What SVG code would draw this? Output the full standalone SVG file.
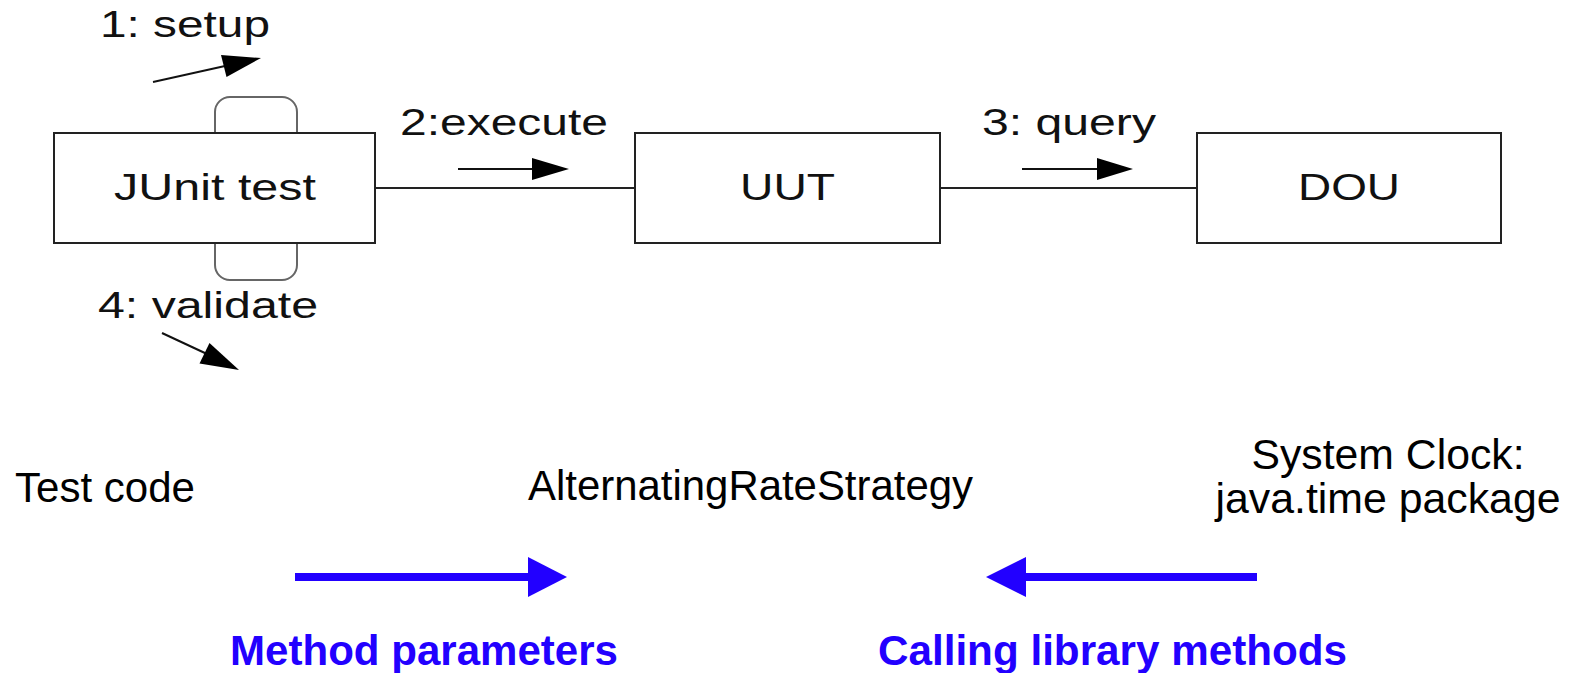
<svg xmlns="http://www.w3.org/2000/svg" width="1572" height="673" viewBox="0 0 1572 673">
<style>
  .box { fill: #fff; stroke: #222; stroke-width: 2; }
  .loop { fill: none; stroke: #666; stroke-width: 2; }
  .conn { stroke: #222; stroke-width: 2; fill: none; }
  .msg { stroke: #111; stroke-width: 2; fill: none; }
  .head { fill: #000; stroke: none; }
  .lbl { font-family: "Liberation Sans", Arial, sans-serif; font-size: 37px; fill: #111; }
  .txt { font-family: "Liberation Sans", Arial, sans-serif; font-size: 42px; fill: #000; }
  .blue { font-family: "Liberation Sans", Arial, sans-serif; font-size: 42px; font-weight: bold; fill: #2200FF; }
  .bline { stroke: #2200FF; stroke-width: 8; fill: none; }
  .bhead { fill: #2200FF; }
</style>
<rect width="1572" height="673" fill="#fff"/>

<g id="connectors">
  <line class="conn" x1="375" y1="188" x2="635" y2="188"/>
  <line class="conn" x1="940" y1="188" x2="1197" y2="188"/>
  <path class="loop" d="M215,133 V112 A15,15 0 0 1 230,97 H282 A15,15 0 0 1 297,112 V133"/>
  <path class="loop" d="M215,243 V265 A15,15 0 0 0 230,280 H282 A15,15 0 0 0 297,265 V243"/>
</g>

<g id="node-junit">
  <rect class="box" x="54" y="133" width="321" height="110"/>
  <text class="lbl" x="215" y="200" text-anchor="middle" textLength="202" lengthAdjust="spacingAndGlyphs">JUnit test</text>
</g>
<g id="node-uut">
  <rect class="box" x="635" y="133" width="305" height="110"/>
  <text class="lbl" x="787.5" y="200" text-anchor="middle" textLength="95" lengthAdjust="spacingAndGlyphs">UUT</text>
</g>
<g id="node-dou">
  <rect class="box" x="1197" y="133" width="304" height="110"/>
  <text class="lbl" x="1349" y="200" text-anchor="middle" textLength="102" lengthAdjust="spacingAndGlyphs">DOU</text>
</g>

<g id="messages">
  <text class="lbl" x="100" y="37" textLength="170" lengthAdjust="spacingAndGlyphs">1: setup</text>
  <line class="msg" x1="153" y1="82" x2="225" y2="66"/>
  <polygon class="head" points="221,55 261,58 226.5,77"/>

  <text class="lbl" x="400" y="135" textLength="208" lengthAdjust="spacingAndGlyphs">2:execute</text>
  <line class="msg" x1="458" y1="169" x2="534" y2="169"/>
  <polygon class="head" points="532,158 569,169 532,180"/>

  <text class="lbl" x="982" y="135" textLength="174" lengthAdjust="spacingAndGlyphs">3: query</text>
  <line class="msg" x1="1022" y1="169" x2="1099" y2="169"/>
  <polygon class="head" points="1097,158 1133,169 1097,180"/>

  <text class="lbl" x="98" y="318" textLength="220" lengthAdjust="spacingAndGlyphs">4: validate</text>
  <line class="msg" x1="162" y1="333" x2="207" y2="354"/>
  <polygon class="head" points="209.5,343 239,370 199.5,363.5"/>
</g>

<g id="label-test-code">
  <text class="txt" x="15" y="502" textLength="180" lengthAdjust="spacingAndGlyphs">Test code</text>
</g>
<g id="label-strategy">
  <text class="txt" x="528" y="500" textLength="445" lengthAdjust="spacingAndGlyphs">AlternatingRateStrategy</text>
</g>
<g id="label-clock">
  <text class="txt" x="1388" y="469" text-anchor="middle" textLength="273" lengthAdjust="spacingAndGlyphs">System Clock:</text>
  <text class="txt" x="1388" y="513" text-anchor="middle" textLength="345" lengthAdjust="spacingAndGlyphs">java.time package</text>
</g>

<g id="arrow-method-parameters">
  <line class="bline" x1="295" y1="577" x2="530" y2="577"/>
  <polygon class="bhead" points="528,557 567,577 528,597"/>
  <text class="blue" x="230" y="665" textLength="388" lengthAdjust="spacingAndGlyphs">Method parameters</text>
</g>
<g id="arrow-calling-library">
  <line class="bline" x1="1257" y1="577" x2="1024" y2="577"/>
  <polygon class="bhead" points="1026,557 986,577 1026,597"/>
  <text class="blue" x="878" y="665" textLength="469" lengthAdjust="spacingAndGlyphs">Calling library methods</text>
</g>
</svg>
